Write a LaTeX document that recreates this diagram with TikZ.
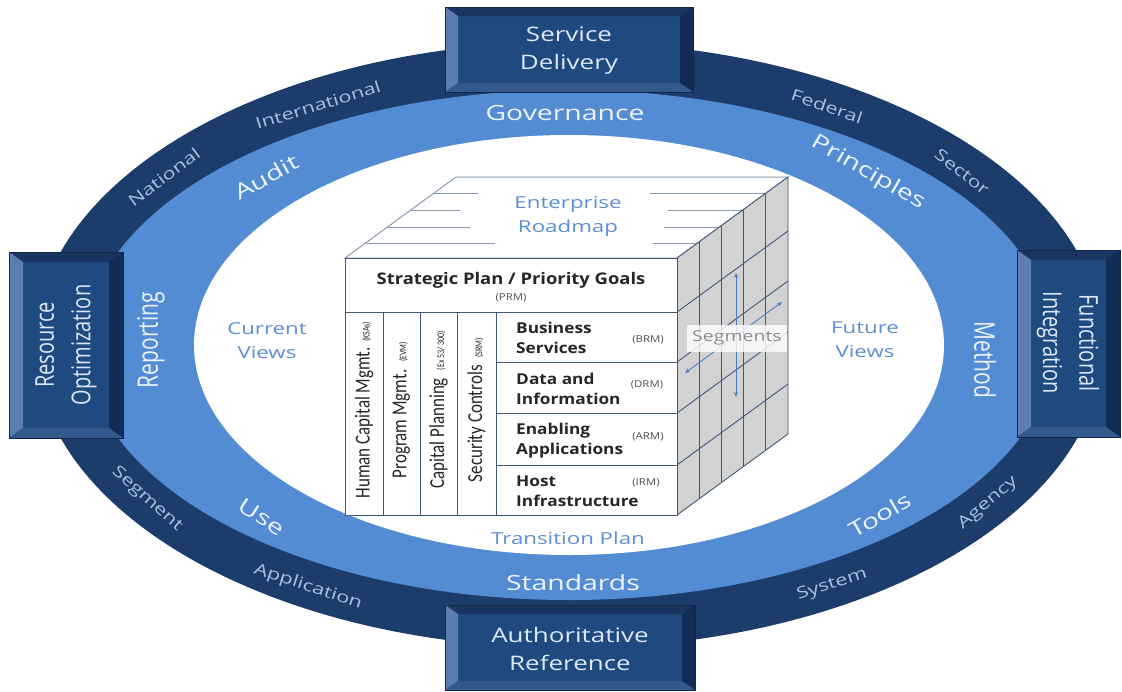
\documentclass[tikz,border=0pt]{standalone}
\usepackage{fontspec}
\usepackage{graphicx}
\setmainfont{Open Sans}
\newfontfamily\calfont{Carlito}
\usetikzlibrary{arrows.meta}
\definecolor{darkring}{HTML}{1C3D6C}
\definecolor{lightband}{HTML}{548CD4}
\definecolor{ringtxt}{HTML}{EDF3FB}
\definecolor{outertxt}{HTML}{A9C0DF}
\definecolor{boxtxt}{HTML}{DDE7F5}
\definecolor{viewtxt}{HTML}{5B8FD3}
\definecolor{bevtop}{HTML}{1A3560}
\definecolor{bevleft}{HTML}{5B7DB0}
\definecolor{bevright}{HTML}{132C55}
\definecolor{bevbot}{HTML}{33598C}
\definecolor{bevin}{HTML}{1F4A80}
\definecolor{bevout}{HTML}{0F2748}
\definecolor{cubeline}{HTML}{3F5878}
\definecolor{topline}{HTML}{8A9BB2}
\definecolor{sideface}{HTML}{D2D2D2}
\definecolor{codetxt}{HTML}{505050}
\definecolor{segtxt}{HTML}{8C8C8C}
\definecolor{segarrowc}{HTML}{4A7EC2}
\newcommand\wide[1]{\scalebox{1.35}[1]{#1}}
\newcommand\bevelbox[6]{%
  \fill[bevin] (#1,#2) rectangle (#3,#4);
  \fill[bevtop] (#1,#2) -- (#3,#2) -- ({#3-#5},{#2+#6}) -- ({#1+#5},{#2+#6}) -- cycle;
  \fill[bevleft] (#1,#2) -- ({#1+#5},{#2+#6}) -- ({#1+#5},{#4-#6}) -- (#1,#4) -- cycle;
  \fill[bevright] (#3,#2) -- ({#3-#5},{#2+#6}) -- ({#3-#5},{#4-#6}) -- (#3,#4) -- cycle;
  \fill[bevbot] (#1,#4) -- ({#1+#5},{#4-#6}) -- ({#3-#5},{#4-#6}) -- (#3,#4) -- cycle;
  \draw[bevout, line width=1pt] (#1,#2) rectangle (#3,#4);
}
\begin{document}
\begin{tikzpicture}[x=1pt,y=-1pt,
  ringlbl/.style={text=ringtxt, font=\fontsize{21}{24}\selectfont, inner sep=0pt},
  outerlbl/.style={text=outertxt, font=\fontsize{16}{19}\selectfont, inner sep=0pt},
  boxlbl/.style={text=boxtxt, font=\fontsize{20}{28}\selectfont, align=center, inner sep=0pt},
  viewlbl/.style={text=viewtxt, font=\fontsize{16.5}{24}\selectfont, align=center, inner sep=0pt},
  boldlbl/.style={font=\bfseries\fontsize{15}{20}\selectfont, align=left, inner sep=0pt, text=black!85},
  codelbl/.style={text=codetxt, font=\fontsize{9.5}{11}\selectfont, inner sep=0pt},
  collbl/.style={font=\calfont\fontsize{17}{20}\selectfont, inner sep=0pt, text=black!85},
  cubeedge/.style={draw=cubeline, line width=0.9pt},
  topedge/.style={draw=topline, line width=1pt},
  segarrow/.style={draw=segarrowc, line width=0.9pt, {Stealth[length=5pt,width=4pt]}-{Stealth[length=5pt,width=4pt]}}
]
\useasboundingbox (0,0) rectangle (1122,691);
\fill[white] (0,0) rectangle (1122,691);
% rings
\fill[darkring] (569,345) ellipse [x radius=534, y radius=303];
\fill[lightband] (569,345) ellipse [x radius=484, y radius=255];
\fill[white] (569,345) ellipse [x radius=375, y radius=210];

% boxes
\bevelbox{445}{7}{693}{92}{13}{9}
\bevelbox{445}{605}{695}{690}{13}{9}
\bevelbox{9}{252}{123}{438}{14}{10}
\bevelbox{1017}{250}{1120}{437}{14}{10}
\node[boxlbl, xscale=1.3] (sd) at (569,51) {Service\\Delivery};
\node[boxlbl, xscale=1.3] (ar) at (570,649) {Authoritative\\Reference};
\node[boxlbl, xscale=1.3, rotate=90] (ro) at (66,345) {Resource\\Optimization};
\node[boxlbl, xscale=1.3, rotate=-90] (fi) at (1068,343) {Functional\\Integration};

% light band labels
\node[ringlbl] (gov) at (565,113) {\wide{Governance}};
\node[ringlbl] (std) at (573,583) {\wide{Standards}};
\node[ringlbl, rotate=29] (aud) at (266,177) {\wide{Audit}};
\node[ringlbl, rotate=-30] (pri) at (868,173) {\wide{Principles}};
\node[ringlbl, xscale=1.35, rotate=90] (rep) at (151,340) {Reporting};
\node[ringlbl, xscale=1.35, rotate=-90] (met) at (985,360) {Method};
\node[ringlbl, rotate=-33] (use) at (262,517) {\wide{Use}};
\node[ringlbl, rotate=30] (too) at (880,515) {\wide{Tools}};

% dark ring labels
\node[outerlbl, rotate=17] (int) at (318,105) {\wide{International}};
\node[outerlbl, rotate=37] (nat) at (164,177) {\wide{National}};
\node[outerlbl, rotate=-19] (fed) at (827,106) {\wide{Federal}};
\node[outerlbl, rotate=-38] (sec) at (962,172) {\wide{Sector}};
\node[outerlbl, rotate=-42] (seg) at (147,499) {\wide{Segment}};
\node[outerlbl, rotate=-18] (app) at (308,587) {\wide{Application}};
\node[outerlbl, rotate=18] (sys) at (832,585) {\wide{System}};
\node[outerlbl, rotate=40] (age) at (988,503) {\wide{Agency}};

% view labels
\node[viewlbl, xscale=1.35] (cv) at (267,341) {Current\\Views};
\node[viewlbl, xscale=1.35] (fv) at (865,340) {Future\\Views};
\node[viewlbl, xscale=1.35] (tp) at (568,538) {Transition Plan};

% ---- cube ----
% top face
\filldraw[fill=white, topedge] (345,258) -- (456,177) -- (788,177) -- (677,258) -- cycle;
\draw[topedge] (434,193) -- (478,193) (650,193) -- (766,193);
\draw[topedge] (410,210) -- (460,210) (668,210) -- (743,210);
\draw[topedge] (388,227) -- (470,227) (664,227) -- (719,227);
\draw[topedge] (366,243) -- (495,243) (653,243) -- (697,243);
\node[viewlbl, xscale=1.35] (er) at (568,216) {Enterprise\\Roadmap};
% right face
\filldraw[fill=sideface, cubeedge] (677,258) -- (788,177) -- (788,434) -- (677,515) -- cycle;
\foreach \t in {0.2,0.4,0.6,0.8} {
  \draw[cubeedge] ({677+111*\t},{258-81*\t}) -- ({677+111*\t},{515-81*\t});
}
\foreach \yy in {312,362,413,465} {
  \draw[cubeedge] (677,\yy) -- (788,{\yy-81});
}
\coordinate (va1) at (736,273);
\coordinate (va2) at (736,397);
\coordinate (da1) at (685,373);
\coordinate (da2) at (782,302);
\draw[segarrow] (va1) -- (va2);
\draw[segarrow] (da1) -- (da2);
\node[fill=white, fill opacity=0.8, text opacity=1, minimum width=100pt, minimum height=27pt, inner sep=0pt,
  text=segtxt, font=\fontsize{15}{18}\selectfont] (segs) at (737,338) {\scalebox{1.3}[1]{Segments}};
% front face
\filldraw[fill=white, cubeedge] (345,258) rectangle (677,515);
\draw[cubeedge] (345,312) -- (677,312);
\foreach \xx in {383,420,457,496} { \draw[cubeedge] (\xx,312) -- (\xx,515); }
\foreach \yy in {362,413,465} { \draw[cubeedge] (496,\yy) -- (677,\yy); }
\node[boldlbl, font=\bfseries\fontsize{16}{20}\selectfont, xscale=1.15] (spg) at (511,280) {Strategic Plan / Priority Goals};
\node[codelbl, xscale=1.2] (prm) at (511,298) {(PRM)};
\node[collbl, xscale=1.25, rotate=90] (hc) at (364,410) {Human Capital Mgmt. {\fontsize{8}{9}\selectfont (KSAs)}};
\node[collbl, xscale=1.25, rotate=90] (pm) at (401.5,410) {Program Mgmt.\ \ {\fontsize{8}{9}\selectfont (EVM)}};
\node[collbl, xscale=1.25, rotate=90] (cp) at (438.5,410) {Capital Planning\ \ {\fontsize{8}{9}\selectfont (Ex 53/ 300)}};
\node[collbl, xscale=1.25, rotate=90] (sc) at (476.5,410) {Security Controls\ \ {\fontsize{8}{9}\selectfont (SRM)}};
\node[boldlbl, anchor=west, xscale=1.15] (bs) at (516,338) {Business\\Services};
\node[boldlbl, anchor=west, xscale=1.15] (di) at (516,389) {Data and\\Information};
\node[boldlbl, anchor=west, xscale=1.15] (ea) at (516,441) {Enabling\\Applications};
\node[boldlbl, anchor=west, xscale=1.15] (hi) at (516,491) {Host\\Infrastructure};
\node[codelbl, xscale=1.2] (brm) at (648,340) {(BRM)};
\node[codelbl, xscale=1.2] (drm) at (647,385) {(DRM)};
\node[codelbl, xscale=1.2] (arm) at (648,437) {(ARM)};
\node[codelbl, xscale=1.2] (irm) at (646,483) {(IRM)};
\end{tikzpicture}
\end{document}
